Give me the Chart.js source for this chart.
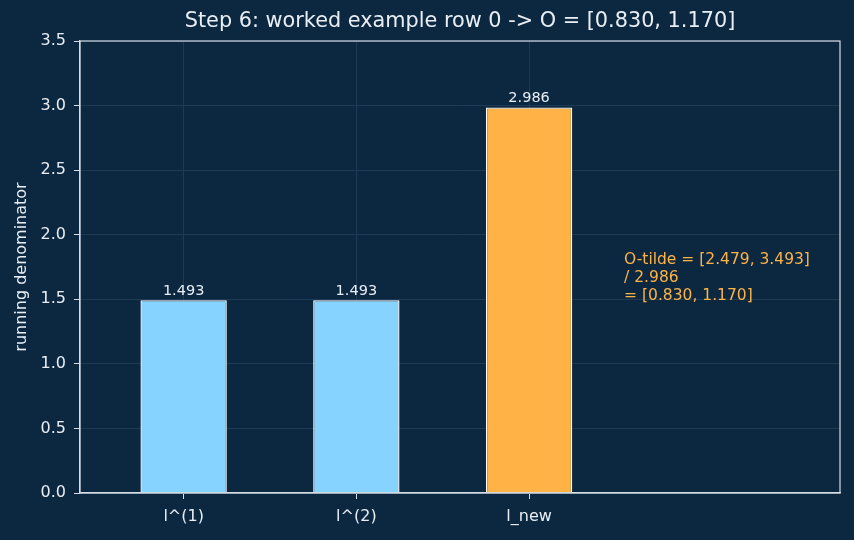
<!DOCTYPE html>
<html>
<head>
<meta charset="utf-8">
<script src="https://cdn.jsdelivr.net/npm/chart.js@4.4.1/dist/chart.umd.min.js"></script>
<style>
    html, body { margin: 0; padding: 0; background: #0c2841; }
    #wrap { width: 854px; height: 540px; }
</style>
</head>
<body>
<div id="wrap"><canvas id="denomChart" width="854" height="540"></canvas></div>
<script>
// values
const categories = ['l^(1)', 'l^(2)', 'l_new'];
const denominators = [1.493, 1.493, 2.986];
const barColors = ['#87d3ff', '#87d3ff', '#ffb347'];
const yTicks = [0, 0.5, 1, 1.5, 2, 2.5, 3, 3.5];
const titleText = 'Step 6: worked example row 0 -> O = [0.830, 1.170]';
const noteLines = ['O-tilde = [2.479, 3.493]', '/ 2.986', '= [0.830, 1.170]'];
const notePos = { x: 2.55, y: 1.665 };

const fontFamily = '"DejaVu Sans", sans-serif';
const textColor = '#e8eef4';
const spineColor = '#d6dde4';
const gridColor = '#1d3b55';

// value labels above each bar
const valueLabels = {
    id: 'valueLabels',
    afterDatasetsDraw(chart) {
        const ctx = chart.ctx;
        const meta = chart.getDatasetMeta(0);
        ctx.save();
        ctx.font = '14.5px ' + fontFamily;
        ctx.fillStyle = textColor;
        ctx.textAlign = 'center';
        ctx.textBaseline = 'bottom';
        meta.data.forEach((bar, i) => {
            ctx.fillText(denominators[i].toFixed(3), bar.x, bar.y - 2);
        });
        ctx.restore();
    }
};

// title centred over the plot, the orange note, and the frame
const noteAndFrame = {
    id: 'noteAndFrame',
    afterDraw(chart) {
        const ctx = chart.ctx;
        const area = chart.chartArea;
        const xs = chart.scales.x;
        const ys = chart.scales.y;
        ctx.save();
        ctx.strokeStyle = spineColor;
        ctx.lineWidth = 1.2;
        ctx.strokeRect(area.left, area.top, area.right - area.left, area.bottom - area.top);

        ctx.font = '20.8px ' + fontFamily;
        ctx.fillStyle = textColor;
        ctx.textAlign = 'center';
        ctx.textBaseline = 'middle';
        ctx.fillText(titleText, (area.left + area.right) / 2, 22);

        ctx.font = '15.5px ' + fontFamily;
        ctx.fillStyle = '#ffb347';
        ctx.textAlign = 'left';
        const px = xs.getPixelForValue(notePos.x);
        const py = ys.getPixelForValue(notePos.y);
        const lh = 18;
        noteLines.forEach((line, i) => {
            ctx.fillText(line, px, py + (i - 1) * lh);
        });
        ctx.restore();
    }
};

const ctx = document.getElementById('denomChart').getContext('2d');

new Chart(ctx, {
    type: 'bar',
    data: {
        datasets: [{
            data: denominators.map((v, i) => ({ x: i, y: v })),
            backgroundColor: barColors,
            borderColor: '#ffffff',
            borderWidth: 1.4,
            categoryPercentage: 0.5,
            barPercentage: 1.0
        }]
    },
    options: {
        responsive: false,
        animation: false,
        layout: { padding: { left: 0, right: 14, top: 41, bottom: 0 } },
        plugins: {
            legend: { display: false },
            tooltip: { enabled: false },
            title: { display: false }
        },
        scales: {
            x: {
                type: 'linear',
                offset: false,
                min: -0.6,
                max: 3.8,
                z: 1,
                afterBuildTicks(scale) {
                    scale.ticks = categories.map((c, i) => ({ value: i }));
                },
                afterFit(scale) { scale.height = 47; },
                ticks: {
                    color: textColor,
                    font: { family: fontFamily, size: 16 },
                    padding: 8,
                    maxRotation: 0,
                    autoSkip: false,
                    callback: (v) => categories[v] ?? ''
                },
                grid: {
                    offset: false,
                    color: gridColor,
                    lineWidth: 1,
                    drawTicks: true,
                    tickLength: 6,
                    tickColor: spineColor
                },
                border: { display: true, color: spineColor, width: 1.2 }
            },
            y: {
                min: 0,
                max: 3.5,
                z: 1,
                afterBuildTicks(scale) {
                    scale.ticks = yTicks.map(v => ({ value: v }));
                },
                afterFit(scale) { scale.width = 80; },
                ticks: {
                    color: textColor,
                    font: { family: fontFamily, size: 16 },
                    padding: 8,
                    callback: (v) => Number(v).toFixed(1)
                },
                grid: {
                    color: gridColor,
                    lineWidth: 1,
                    drawTicks: true,
                    tickLength: 6,
                    tickColor: spineColor
                },
                border: { display: true, color: spineColor, width: 1.2 },
                title: {
                    display: true,
                    text: 'running denominator',
                    color: textColor,
                    font: { family: fontFamily, size: 16 },
                    padding: { top: 12, bottom: 0 }
                }
            }
        }
    },
    plugins: [valueLabels, noteAndFrame]
});
</script>
</body>
</html>
